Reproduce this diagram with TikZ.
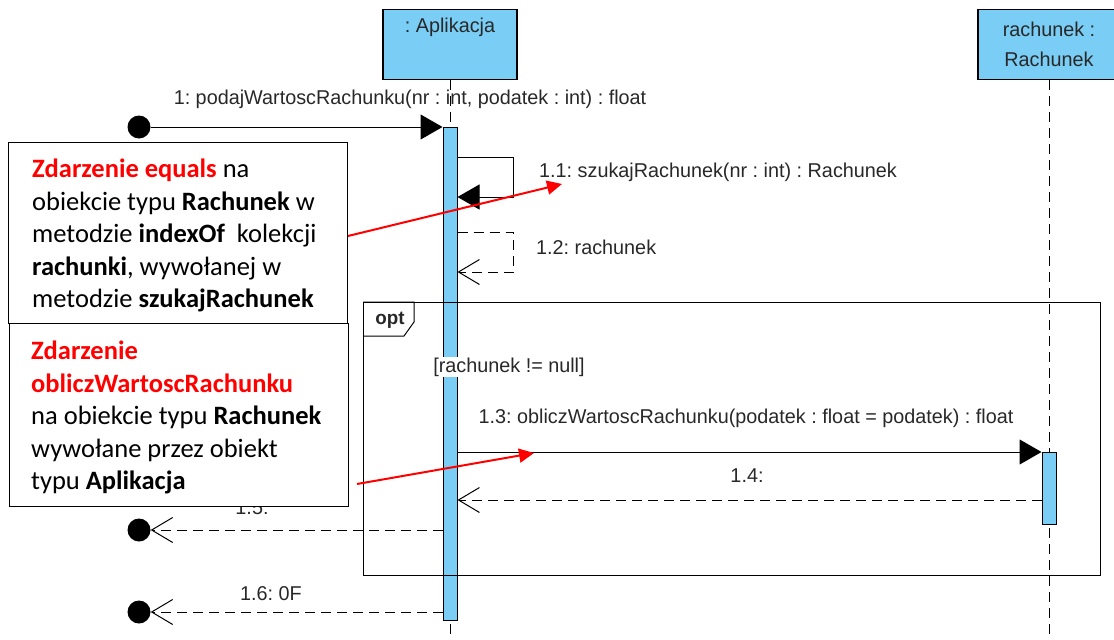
\documentclass[tikz,border=0pt]{standalone}
\usepackage{fontspec}
\setmainfont{Liberation Sans}
\newfontfamily\umlfont[FakeStretch=0.99]{Liberation Sans}
\newfontfamily\notefont{Carlito}
\usetikzlibrary{positioning, arrows.meta, calc}
\definecolor{umlblue}{RGB}{122,206,245}
\definecolor{umltext}{RGB}{40,40,40}
\frenchspacing

\begin{document}
\begin{tikzpicture}[
    x=1pt, y=-1pt,          % współrzędne w pikselach, oś y w dół
    font=\umlfont\fontsize{20}{30}\selectfont,
    lifebox/.style={draw, line width=1.3pt, fill=umlblue, minimum width=134pt,
        minimum height=70pt, anchor=north, inner sep=0pt, align=center, text=umltext},
    actbar/.style={draw, line width=1pt, fill=umlblue, minimum width=14pt, anchor=north, inner sep=0pt},
    lifeline/.style={line width=1pt, dash pattern=on 10pt off 6pt},
    call/.style={line width=1pt, -{Triangle[length=22pt, width=25pt]}},
    reply/.style={line width=1pt, dash pattern=on 10pt off 6pt, -{Straight Barb[length=21pt, width=25pt]}},
    enddot/.style={circle, fill=black, minimum size=23pt, inner sep=0pt},
    msglabel/.style={text=umltext, inner sep=0pt},
    notebox/.style={draw, line width=1.3pt, fill=white, anchor=north west, inner sep=0pt},
    notetext/.style={font=\notefont\fontsize{26.5}{32.5}\selectfont, align=left, anchor=north west, inner sep=0pt},
    hint/.style={red, line width=2pt, -{Triangle[length=15pt, width=14pt]}}
]
    \useasboundingbox (0,0) rectangle (1114,640);

    % --- 1. Linie życia ---
    \node [lifebox] (boxA) at (450,9) {: Aplikacja\\ \strut};
    \node [lifebox, minimum width=142pt] (boxR) at (1049,9) {rachunek :\\ Rachunek};
    \draw [lifeline] (boxA.south) -- (450,640);
    \draw [lifeline] (boxR.south) -- (1049,640);

    \node [actbar, minimum height=493pt] (barA) at (450,127) {};
    \node [actbar, minimum height=72pt] (barR) at (1049,452) {};

    % --- 2. Fragment opt ---
    \node [draw, line width=1pt, minimum width=737pt, minimum height=273pt,
        anchor=north west, inner sep=0pt] (opt) at (363,302) {};
    \draw [line width=1pt] (opt.north west) -- ++(51,0) -- ++(0,20) -- ++(-10,14) -- ++(-41,0);
    \node [msglabel, font=\umlfont\bfseries\fontsize{19}{20}\selectfont] (optlab) at (390,320) {opt};
    \node [msglabel, fill=white, inner sep=1pt] (guard) at (509,367) {[rachunek != null]};

    % --- 3. Komunikaty ---
    \node [enddot] (src) at (139,127) {};
    \node [enddot] (sink5) at (139,530) {};
    \node [enddot] (sink6) at (139,612) {};

    % 1: wywołanie z zewnątrz
    \draw [call] (src) -- (barA.north west);
    \node [msglabel] (l1) at (410,99) {1: podajWartoscRachunku(nr : int, podatek : int) : float};

    % 1.1 i 1.2: komunikaty do siebie
    \coordinate (s1) at ($(barA.north east)+(0,30)$);
    \draw [call] (s1) -- ++(56,0) -- ++(0,40) -- ++(-56,0);
    \node [msglabel, anchor=west] (l11) at (539,172) {1.1: szukajRachunek(nr : int) : Rachunek};

    \coordinate (s2) at ($(barA.north east)+(0,105)$);
    \draw [reply] (s2) -- ++(56,0) -- ++(0,40) -- ++(-56,0);
    \node [msglabel, anchor=west] (l12) at (536,247) {1.2: rachunek};

    % 1.3 i 1.4: wywołanie i powrót z Rachunek
    \coordinate (s3) at (barA.east |- barR.north);
    \draw [call] (s3) -- (barR.north west);
    \node [msglabel] (l13) at (746,418) {1.3: obliczWartoscRachunku(podatek : float = podatek) : float};

    \coordinate (r4) at ($(barR.north west)+(0,48)$);
    \draw [reply] (r4) -- (r4 -| barA.east);
    \node [msglabel] (l14) at (747,476) {1.4:};

    % 1.5 i 1.6: powroty na zewnątrz
    \draw [reply] (barA.west |- sink5) -- (sink5);
    \node [msglabel] (l15) at (252,508) {1.5:};
    \draw [reply] (barA.west |- sink6) -- (sink6);
    \node [msglabel] (l16) at (271,594) {1.6: 0F};

    % --- 4. Notatki z czerwonymi strzałkami ---
    \node [notebox, minimum width=339pt, minimum height=181pt] (note1) at (8,142) {};
    \node [notetext] (t1) at (32,159) {\textcolor{red}{\bfseries Zdarzenie equals} na\\
        obiekcie typu \textbf{Rachunek} w\\
        metodzie \textbf{indexOf}\ \ kolekcji\\
        \textbf{rachunki}, wywołanej w\\
        metodzie \textbf{szukajRachunek}};

    \node [notebox, minimum width=339pt, minimum height=183pt] (note2) at (9,323) {};
    \node [notetext] (t2) at (31,341) {\textcolor{red}{\bfseries Zdarzenie}\\
        \textcolor{red}{\bfseries obliczWartoscRachunku}\\
        na obiekcie typu \textbf{Rachunek}\\
        wywołane przez obiekt\\
        typu \textbf{Aplikacja}};

    \coordinate (h1a) at (348,236);
    \coordinate (h1b) at (562,184);
    \draw [hint] (h1a) -- (h1b);
    \coordinate (h2a) at (357,484);
    \coordinate (h2b) at (534,453);
    \draw [hint] (h2a) -- (h2b);

\end{tikzpicture}
\end{document}
